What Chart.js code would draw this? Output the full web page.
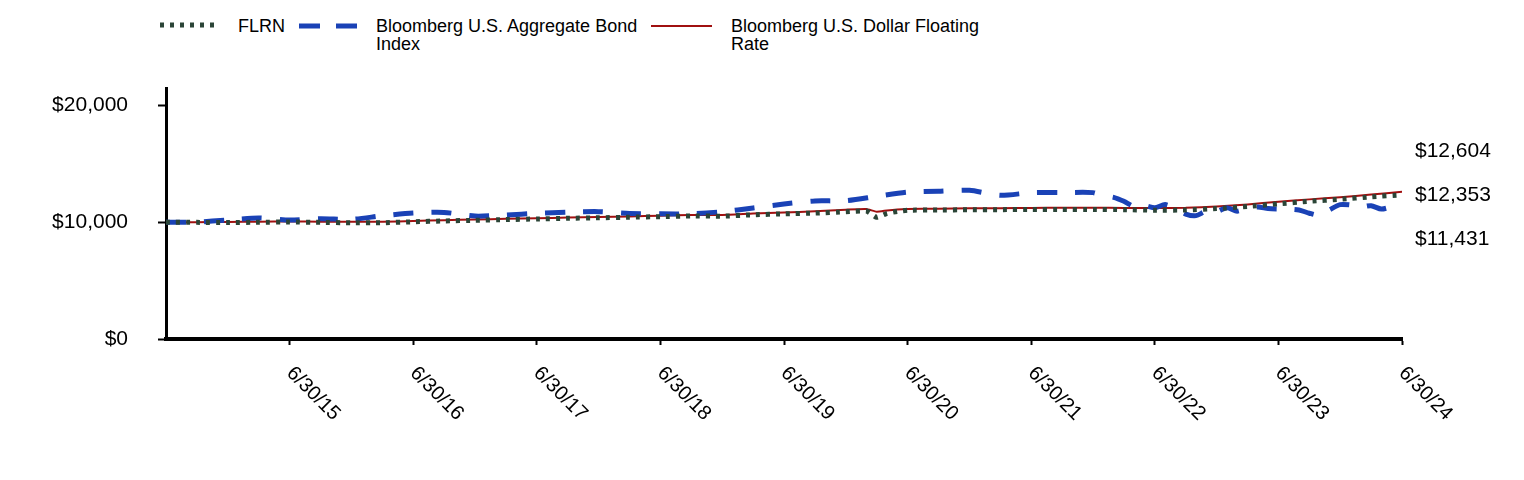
<!DOCTYPE html>
<html>
<head>
<meta charset="utf-8">
<script src="https://cdn.jsdelivr.net/npm/chart.js@4.4.0/dist/chart.umd.min.js"></script>
<style>
  html,body{margin:0;padding:0;background:#fff;}
  body{width:1524px;height:480px;position:relative;overflow:hidden;font-family:"Liberation Sans",Arial,sans-serif;}
  #c{position:absolute;left:0;top:0;}
  .lg{position:absolute;font-size:18px;line-height:18px;color:#000;white-space:nowrap;}
  .sw{position:absolute;}
</style>
</head>
<body>
<svg class="sw" style="left:158px;top:18px" width="60" height="14"><line x1="2" y1="7" x2="58" y2="7" stroke="#2b4537" stroke-width="5" stroke-dasharray="4 6"/></svg>
<div class="lg" style="left:238px;top:17px">FLRN</div>
<svg class="sw" style="left:297px;top:19px" width="64" height="14"><line x1="2" y1="7" x2="60" y2="7" stroke="#1a42b6" stroke-width="5" stroke-dasharray="21 16"/></svg>
<div class="lg" style="left:376px;top:17px">Bloomberg U.S. Aggregate Bond<br>Index</div>
<svg class="sw" style="left:650px;top:19px" width="64" height="14"><line x1="1" y1="7" x2="62" y2="7" stroke="#a01010" stroke-width="2"/></svg>
<div class="lg" style="left:731px;top:17px">Bloomberg U.S. Dollar Floating<br>Rate</div>
<canvas id="c" width="1524" height="480"></canvas>
<script>
// quarter-end dates, 6/30/14 .. 6/30/24
const dates = ['6/30/14','9/30/14','12/31/14','3/31/15','6/30/15','9/30/15','12/31/15','3/31/16','6/30/16','9/30/16','12/31/16',
  '3/31/17','6/30/17','9/30/17','12/31/17','3/31/18','6/30/18','9/30/18','12/31/18','3/31/19','6/30/19','9/30/19','12/31/19',
  '3/31/20','6/30/20','9/30/20','12/31/20','3/31/21','6/30/21','9/30/21','12/31/21','3/31/22','6/30/22','9/30/22','12/31/22',
  '3/31/23','6/30/23','9/30/23','12/31/23','3/31/24','6/30/24'];
const tickLabels = ['6/30/15','6/30/16','6/30/17','6/30/18','6/30/19','6/30/20','6/30/21','6/30/22','6/30/23','6/30/24'];

const flrn = [10000,9990,9970,10000,10020,9990,9950,9960,10040,10110,10170,
  10230,10280,10340,10380,10430,10480,10540,10520,10640,10720,10780,10900,
  10420,11030,11050,11070,11080,11090,11100,11100,11080,11030,11050,11170,
  11350,11580,11790,11970,12180,12353];
// extra months around the 2020 dip
const flrnXDates = ['2/29/20','4/30/20','5/31/20'];
const flrnX = [10960,10760,10930];

const aggBond = [10000,10017,10197,10363,10186,10309,10245,10556,10797,10845,10529,
  10619,10764,10866,10908,10748,10721,10721,10907,11224,11565,11826,11845,
  12218,12576,12654,12733,12305,12534,12539,12538,11793,11240,10705,10906,
  11229,11135,10775,11510,11421,11431];
// monthly points 2022-2024
const aggXDates = ['1/31/22','2/28/22','4/30/22','5/31/22','7/31/22','8/31/22','10/31/22','11/30/22',
  '1/31/23','2/28/23','4/30/23','5/31/23','7/31/23','8/31/23','10/31/23','11/30/23',
  '1/31/24','2/29/24','4/30/24','5/31/24'];
const aggX = [12268,12131,11346,11419,11514,11188,10566,10955,
  11242,10951,11298,11175,11127,11056,10605,11085,
  11479,11317,11132,11321];

const floatRate = [10000,10010,10020,10050,10070,10050,10040,10040,10110,10180,10230,
  10290,10340,10400,10450,10500,10560,10630,10620,10740,10830,10950,11080,
  10900,11130,11160,11190,11210,11230,11240,11240,11230,11220,11240,11350,
  11530,11760,11960,12150,12370,12604];
const floatXDates = ['2/29/20','4/30/20','5/31/20'];
const floatX = [11130,11010,11090];

const yTicks = [0,10000,20000];
const money = v => '$' + Math.round(v).toLocaleString('en-US');
const FONT = '"Liberation Sans", Arial, sans-serif';

// months since 6/30/14
const monthOf = d => { const [m,,y] = d.split('/').map(Number); return (y-14)*12 + m - 6; };
const pts = (ds, vs, xds, xvs) => ds.map((d,i)=>({x:monthOf(d),y:vs[i]}))
  .concat(xds.map((d,i)=>({x:monthOf(d),y:xvs[i]}))).sort((a,b)=>a.x-b.x);

// x labels drawn rotated clockwise, starting under the tick
const xLabels = {
  id:'xLabels',
  afterDraw(chart){
    const sx = chart.scales.x, c = chart.ctx;
    c.save();
    c.font = '20px ' + FONT;
    c.fillStyle = '#000';
    c.textAlign = 'left';
    c.textBaseline = 'top';
    tickLabels.forEach(d=>{
      const x = sx.getPixelForValue(monthOf(d));
      c.save();
      c.translate(x+7, 363);
      c.rotate(Math.PI/4);
      c.fillText(d,0,0);
      c.restore();
    });
    c.restore();
  }
};

// ending values at the right, spread apart
const endLabels = {
  id:'endLabels',
  afterDraw(chart){
    const c = chart.ctx, sy = chart.scales.y;
    const ends = chart.data.datasets.map(ds=>ds.data[ds.data.length-1].y).sort((a,b)=>b-a);
    const mid = sy.getPixelForValue(ends[1]);
    c.save();
    c.font = '21px ' + FONT;
    c.fillStyle = '#000';
    c.textAlign = 'left';
    c.textBaseline = 'middle';
    ends.forEach((v,i)=>c.fillText(money(v), chart.chartArea.right+13, mid+(i-1)*44));
    c.restore();
  }
};

new Chart(document.getElementById('c'),{
  type:'line',
  data:{
    datasets:[
      {label:'FLRN',data:pts(dates,flrn,flrnXDates,flrnX),borderColor:'#2b4537',borderWidth:5,borderDash:[4,6],pointRadius:0,tension:0.15,fill:false},
      {label:'Bloomberg U.S. Aggregate Bond Index',data:pts(dates,aggBond,aggXDates,aggX),borderColor:'#1a42b6',borderWidth:5,borderDash:[20,18],pointRadius:0,tension:0.25,fill:false},
      {label:'Bloomberg U.S. Dollar Floating Rate',data:pts(dates,floatRate,floatXDates,floatX),borderColor:'#a01010',borderWidth:2,pointRadius:0,tension:0.15,fill:false}
    ]
  },
  options:{
    responsive:false,
    animation:false,
    devicePixelRatio:1,
    layout:{padding:{left:0,top:88,right:122,bottom:0}},
    plugins:{legend:{display:false},tooltip:{enabled:false}},
    scales:{
      x:{
        type:'linear',
        min:0,max:120,
        afterFit:s=>{s.height=141;},
        afterBuildTicks:s=>{s.ticks=tickLabels.map(d=>({value:monthOf(d)}));},
        border:{display:true,color:'#000',width:4},
        grid:{display:true,drawOnChartArea:false,drawTicks:true,tickLength:6,tickWidth:2,tickColor:'#000'},
        ticks:{display:false}
      },
      y:{
        min:0,max:21500,
        afterFit:s=>{s.width=166;},
        afterBuildTicks:s=>{s.ticks=yTicks.map(v=>({value:v}));},
        border:{display:true,color:'#000',width:3},
        grid:{display:true,drawOnChartArea:false,drawTicks:true,tickLength:8,tickWidth:2,tickColor:'#000'},
        ticks:{padding:30,color:'#000',font:{family:FONT,size:21},callback:v=>money(v)}
      }
    }
  },
  plugins:[xLabels,endLabels]
});
</script>
</body>
</html>
